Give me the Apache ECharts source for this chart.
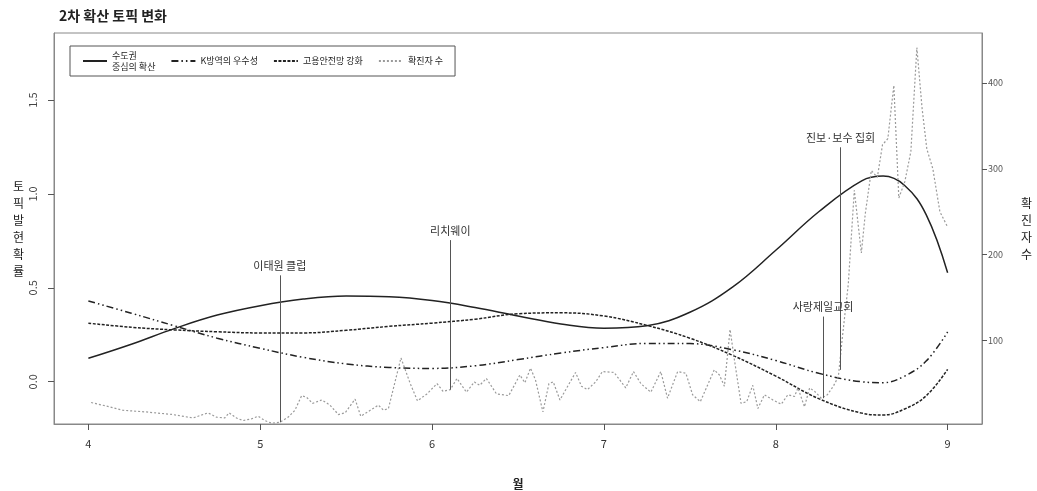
<!DOCTYPE html>
<html>
<head>
<meta charset="utf-8">
<script src="https://cdn.jsdelivr.net/npm/echarts@6/dist/echarts.min.js"></script>
<style>
html,body{margin:0;padding:0;background:#fff;}
#chart{width:1037px;height:491px;}
</style>
</head>
<body>
<div id="chart"></div>
<script>
// ---- data ----
var topicMonths = [4, 4.25, 4.5, 4.75, 5, 5.25, 5.5, 5.75, 6, 6.25, 6.5, 6.75, 7, 7.25, 7.5, 7.75, 8, 8.25, 8.5, 8.625, 8.75, 8.875, 9];
var metroSpread = [0.125, 0.20, 0.283, 0.355, 0.405, 0.44, 0.456, 0.452, 0.432, 0.395, 0.35, 0.308, 0.285, 0.298, 0.37, 0.505, 0.70, 0.905, 1.07, 1.095, 1.045, 0.89, 0.58];
var kQuarantine = [0.43, 0.365, 0.298, 0.232, 0.178, 0.13, 0.095, 0.076, 0.071, 0.085, 0.118, 0.153, 0.182, 0.204, 0.203, 0.17, 0.113, 0.045, 0.0, -0.005, 0.03, 0.11, 0.265];
var employment = [0.312, 0.29, 0.276, 0.266, 0.26, 0.26, 0.274, 0.295, 0.312, 0.333, 0.362, 0.367, 0.35, 0.3, 0.232, 0.14, 0.03, -0.09, -0.167, -0.177, -0.145, -0.075, 0.066];

var caseMonths = [4.016, 4.123, 4.200, 4.337, 4.492, 4.609, 4.696, 4.745, 4.793, 4.819, 4.862, 4.900, 4.949, 4.988, 5.027, 5.066, 5.114, 5.163, 5.202, 5.241, 5.270, 5.305, 5.358, 5.406, 5.455, 5.494, 5.552, 5.585, 5.688, 5.717, 5.746, 5.819, 5.873, 5.915, 5.970, 6.029, 6.064, 6.106, 6.145, 6.200, 6.246, 6.277, 6.316, 6.375, 6.446, 6.511, 6.540, 6.573, 6.602, 6.645, 6.680, 6.705, 6.744, 6.835, 6.869, 6.904, 6.952, 6.991, 7.059, 7.127, 7.172, 7.215, 7.273, 7.331, 7.370, 7.429, 7.477, 7.516, 7.561, 7.642, 7.672, 7.701, 7.734, 7.759, 7.798, 7.831, 7.866, 7.896, 7.934, 7.983, 8.032, 8.070, 8.109, 8.129, 8.167, 8.197, 8.226, 8.265, 8.300, 8.335, 8.364, 8.387, 8.422, 8.457, 8.498, 8.521, 8.556, 8.591, 8.621, 8.652, 8.687, 8.716, 8.751, 8.786, 8.821, 8.851, 8.879, 8.914, 8.955, 8.998];
var caseCounts = [28, 23, 19, 17, 14, 10, 16, 11, 10, 16, 10, 7, 9, 12, 7, 4, 5, 11, 19, 36, 34, 27, 31, 25, 14, 16, 32, 12, 25, 19, 21, 80, 50, 30, 38, 50, 41, 43, 56, 40, 52, 48, 56, 38, 36, 60, 51, 68, 54, 17, 50, 52, 31, 63, 47, 43, 52, 64, 63, 45, 64, 50, 40, 64, 33, 64, 62, 37, 29, 66, 60, 47, 113, 78, 27, 29, 48, 21, 37, 31, 26, 37, 35, 45, 23, 45, 41, 33, 37, 47, 58, 103, 166, 275, 202, 248, 298, 290, 328, 335, 397, 266, 285, 320, 441, 371, 323, 300, 250, 233];

var monthTicks = [4, 5, 6, 7, 8, 9];
var probTicks = [0, 0.5, 1, 1.5];
var caseTicks = [100, 200, 300, 400];

var eventNames = ['이태원 클럽', '리치웨이', '사랑제일교회', '진보·보수 집회'];
var eventMonths = [5.114, 6.106, 8.275, 8.377];
var eventTop = [176, 217, 128, 325];
var eventBottom = [5, 43, 33, 66];

var seriesNames = ['수도권 중심의 확산', 'K방역의 우수성', '고용안전망 강화', '확진자 수'];

function zip(xs, ys) { return xs.map(function (x, i) { return [x, ys[i]]; }); }

var FONT = '"Noto Sans CJK KR", "Noto Sans", sans-serif';
var chart = echarts.init(document.getElementById('chart'), null, {renderer: 'canvas'});

var eventLines = eventNames.map(function (n, i) {
  return [{name: n, coord: [eventMonths[i], eventTop[i]]}, {coord: [eventMonths[i], eventBottom[i]]}];
});

chart.setOption({
  animation: false,
  textStyle: {fontFamily: FONT},
  title: {
    text: '2차 확산 토픽 변화',
    left: 54, top: 4,
    textStyle: {fontFamily: FONT, fontSize: 14, fontWeight: 'bold', color: '#222'}
  },
  legend: {
    left: 70, top: 46,
    orient: 'horizontal',
    borderColor: '#555', borderWidth: 1, borderRadius: 0,
    padding: [4, 12, 4, 12],
    itemWidth: 24, itemHeight: 8, itemGap: 15,
    itemStyle: {opacity: 0},
    textStyle: {fontFamily: FONT, fontSize: 9, color: '#222', lineHeight: 11},
    formatter: function (n) { return n === '수도권 중심의 확산' ? '수도권\n중심의 확산' : n; },
    data: seriesNames
  },
  grid: {
    left: 54, right: 55, top: 33, bottom: 67,
    containLabel: false, outerBoundsMode: 'none',
    show: true, borderColor: '#888', borderWidth: 1, backgroundColor: 'transparent'
  },
  xAxis: {
    type: 'value', min: 3.8, max: 9.2,
    name: '월', nameLocation: 'middle', nameGap: 54,
    nameTextStyle: {fontFamily: FONT, fontSize: 12, fontWeight: 'bold', color: '#222'},
    axisLine: {show: true, onZero: false, lineStyle: {color: '#888'}},
    axisTick: {show: true, inside: false, length: 6, customValues: monthTicks, lineStyle: {color: '#555'}},
    axisLabel: {customValues: monthTicks, margin: 14, fontSize: 11, color: '#333', fontFamily: FONT},
    splitLine: {show: false}
  },
  yAxis: [{
    type: 'value', min: -0.225, max: 1.857, position: 'left',
    name: '토\n픽\n발\n현\n확\n률', nameLocation: 'middle', nameRotate: 0, nameGap: 30,
    nameTextStyle: {fontFamily: FONT, fontSize: 12, color: '#222', lineHeight: 17},
    axisLine: {show: true, onZero: false, lineStyle: {color: '#888'}},
    axisTick: {show: true, length: 6, customValues: probTicks, lineStyle: {color: '#555'}},
    axisLabel: {customValues: probTicks, rotate: 90, margin: 16, fontSize: 11, color: '#444', fontFamily: FONT,
      formatter: function (v) { return v.toFixed(1); }},
    splitLine: {show: false}
  }, {
    type: 'value', min: 3, max: 458, position: 'right',
    name: '확\n진\n자\n수', nameLocation: 'middle', nameRotate: 0, nameGap: 39,
    nameTextStyle: {fontFamily: FONT, fontSize: 12, color: '#222', lineHeight: 17},
    axisLine: {show: true, onZero: false, lineStyle: {color: '#888'}},
    axisTick: {show: true, length: 5, customValues: caseTicks, lineStyle: {color: '#555'}},
    axisLabel: {customValues: caseTicks, margin: 6, fontSize: 9, color: '#555', fontFamily: FONT},
    splitLine: {show: false}
  }],
  series: [{
    name: seriesNames[0], type: 'line', yAxisIndex: 0, smooth: 0.4, symbol: 'none',
    lineStyle: {color: '#222', width: 1.5, type: 'solid'}, itemStyle: {color: '#222'},
    data: zip(topicMonths, metroSpread)
  }, {
    name: seriesNames[1], type: 'line', yAxisIndex: 0, smooth: 0.4, symbol: 'none',
    lineStyle: {color: '#222', width: 1.5, type: [7, 3, 1.5, 3, 1.5, 3]}, itemStyle: {color: '#222'},
    data: zip(topicMonths, kQuarantine)
  }, {
    name: seriesNames[2], type: 'line', yAxisIndex: 0, smooth: 0.4, symbol: 'none',
    lineStyle: {color: '#222', width: 1.5, type: [3, 1.5]}, itemStyle: {color: '#222'},
    data: zip(topicMonths, employment)
  }, {
    name: seriesNames[3], type: 'line', yAxisIndex: 1, smooth: false, symbol: 'none',
    lineStyle: {color: '#9a9a9a', width: 1.2, type: [2, 2]}, itemStyle: {color: '#9a9a9a'},
    data: zip(caseMonths, caseCounts),
    markLine: {
      silent: true, symbol: ['none', 'none'], animation: false,
      lineStyle: {color: '#555', width: 1, type: 'solid'},
      label: {show: true, position: 'start', distance: 4, formatter: '{b}', fontFamily: FONT, fontSize: 11, color: '#333'},
      emphasis: {disabled: true},
      data: eventLines
    }
  }]
});
</script>
</body>
</html>
